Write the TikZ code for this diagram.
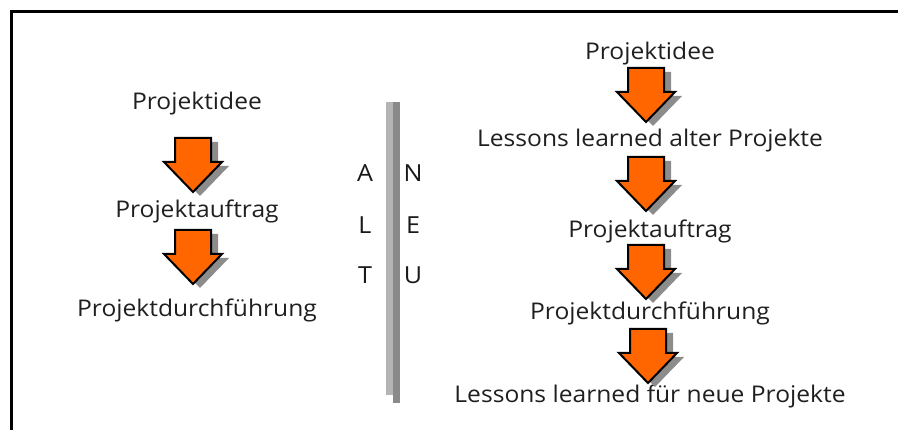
\documentclass[tikz,border=0pt]{standalone}
\usepackage{fontspec}
\setmainfont[FakeStretch=1.07]{Open Sans}
\usetikzlibrary{calc}
\definecolor{arroworange}{HTML}{FF6600}
\definecolor{shadowgray}{HTML}{8C8C8C}
\definecolor{barlight}{HTML}{B4B4B4}
\definecolor{bardark}{HTML}{8A8A8A}
\tikzset{
  x=1pt, y=-1pt,
  label/.style={font=\fontsize{23}{26}\selectfont, text=black!88, anchor=base, inner sep=0pt},
  letter/.style={font=\fontsize{23.5}{26}\selectfont, text=black!90, anchor=base, inner sep=0pt},
  pics/blockarrow/.style={code={
    \fill[shadowgray] (-11,-23) -- (25,-23) -- (25,1) -- (36,1) -- (7,31) -- (-22,1) -- (-11,1) -- cycle;
    \filldraw[fill=arroworange, draw=black, line width=2pt, line join=miter]
      (-18,-27) -- (18,-27) -- (18,-3) -- (29,-3) -- (0,27) -- (-29,-3) -- (-18,-3) -- cycle;
  }}
}
\begin{document}
\begin{tikzpicture}
\useasboundingbox (0,0) rectangle (898,430);
% frame (only top and left edges visible)
\draw[black, line width=3pt] (11,430) -- (11,11.5) -- (898,11.5);

% old process
\node[label] (l1) at (197,110) {Projektidee};
\node[label] (l2) at (197,218) {Projektauftrag};
\node[label] (l3) at (197,317) {Projektdurchführung};
\pic at (193,165) {blockarrow};
\pic at (193,257) {blockarrow};

% divider
\fill[barlight] (386,102) rectangle (393,395);
\fill[bardark] (393,102) rectangle (400,403);
\node[letter] (a) at (365,182) {A};
\node[letter] (b) at (365,234) {L};
\node[letter] (c) at (365,284) {T};
\node[letter] (n) at (413,182) {N};
\node[letter] (e) at (413,234) {E};
\node[letter] (u) at (413,284) {U};

% new process
\node[label] (r1) at (650,60) {Projektidee};
\node[label] (r2) at (650,147) {Lessons learned alter Projekte};
\node[label] (r3) at (650,238) {Projektauftrag};
\node[label] (r4) at (650,320) {Projektdurchführung};
\node[label] (r5) at (650,403) {Lessons learned für neue Projekte};
\pic at (646,95) {blockarrow};
\pic at (646,184) {blockarrow};
\pic at (646,272) {blockarrow};
\pic at (648,356) {blockarrow};
\end{tikzpicture}
\end{document}
